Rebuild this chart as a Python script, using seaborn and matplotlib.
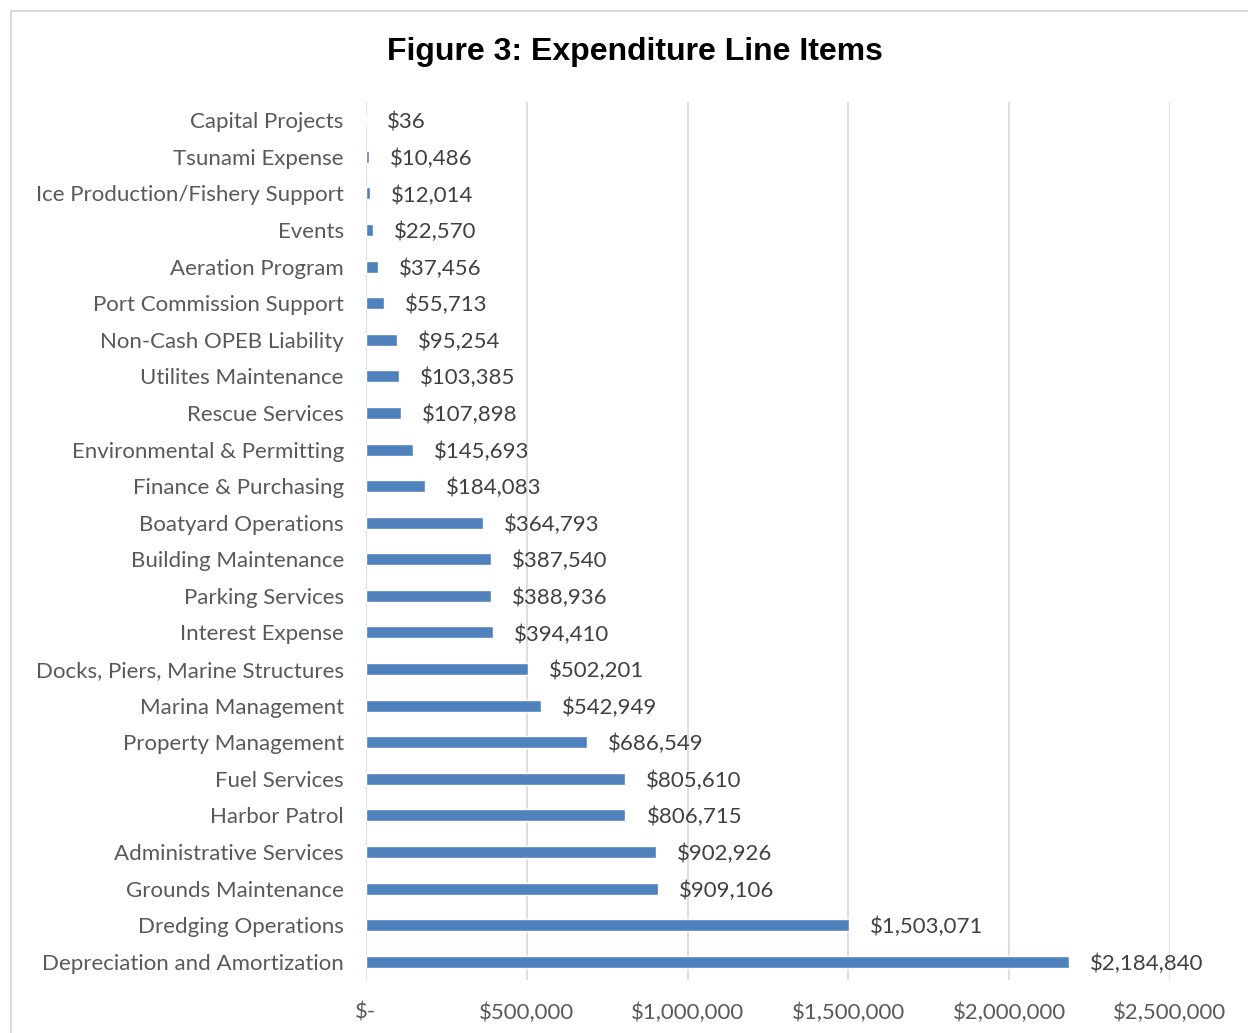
import matplotlib.pyplot as plt
import matplotlib.patches as mpatches
import pandas as pd
import seaborn as sns

# Data (top to bottom as shown)
categories = [
    "Capital Projects", "Tsunami Expense", "Ice Production/Fishery Support", "Events",
    "Aeration Program", "Port Commission Support", "Non-Cash OPEB Liability",
    "Utilites Maintenance", "Rescue Services", "Environmental & Permitting",
    "Finance & Purchasing", "Boatyard Operations", "Building Maintenance",
    "Parking Services", "Interest Expense", "Docks, Piers, Marine Structures",
    "Marina Management", "Property Management", "Fuel Services", "Harbor Patrol",
    "Administrative Services", "Grounds Maintenance", "Dredging Operations",
    "Depreciation and Amortization",
]
values = [
    36, 10486, 12014, 22570, 37456, 55713, 95254, 103385, 107898, 145693,
    184083, 364793, 387540, 388936, 394410, 502201, 542949, 686549, 805610,
    806715, 902926, 909106, 1503071, 2184840,
]
xticks = [0, 500000, 1000000, 1500000, 2000000, 2500000]
xtick_labels = ["$-", "$500,000", "$1,000,000", "$1,500,000", "$2,000,000", "$2,500,000"]

df = pd.DataFrame({"category": categories, "value": values})

sns.set_style("white")
plt.rcParams["font.family"] = ["Lato", "DejaVu Sans"]

fig = plt.figure(figsize=(12.48, 10.33), dpi=100)
ax = fig.add_axes([366 / 1248, 1 - 980 / 1033, (1170 - 366) / 1248, (980 - 102) / 1033])

sns.barplot(data=df, x="value", y="category", orient="h", color="#4F81BD",
            saturation=1, width=0.33, ax=ax, zorder=3)

for i, v in enumerate(values):
    ax.annotate(f"${v:,}", xy=(v, i), xytext=(21, 0), textcoords="offset pixels",
                ha="left", va="center_baseline", fontsize=16, color="#404040")

ax.set_xlim(0, 2500000)
ax.set_ylim(len(categories) - 0.5, -0.5)
ax.set_xticks(xticks)
ax.set_xticklabels(xtick_labels)
ax.grid(axis="x", color="#D9D9D9", linewidth=1.2, zorder=0)
ax.set_axisbelow(True)
for s in ax.spines.values():
    s.set_visible(False)
ax.tick_params(axis="x", length=0, pad=16, labelsize=16, labelcolor="#595959")
ax.tick_params(axis="y", length=0, pad=16, labelsize=16, labelcolor="#595959")
for lbl in ax.get_yticklabels():
    lbl.set_verticalalignment("center_baseline")
ax.set_xlabel("")
ax.set_ylabel("")

fig.text(635 / 1248, 1 - 52 / 1033, "Figure 3: Expenditure Line Items",
         ha="center", va="center", fontsize=23, fontweight="bold",
         family="Liberation Sans", color="black")

# outer chart border (cut off at right and bottom)
fig.patches.append(mpatches.Rectangle((11 / 1248, -0.1), 1.2, 1 - 11 / 1033 + 0.1,
                                      transform=fig.transFigure, fill=False,
                                      edgecolor="#D9D9D9", linewidth=1.5))

fig.savefig("out.png", dpi=100)
